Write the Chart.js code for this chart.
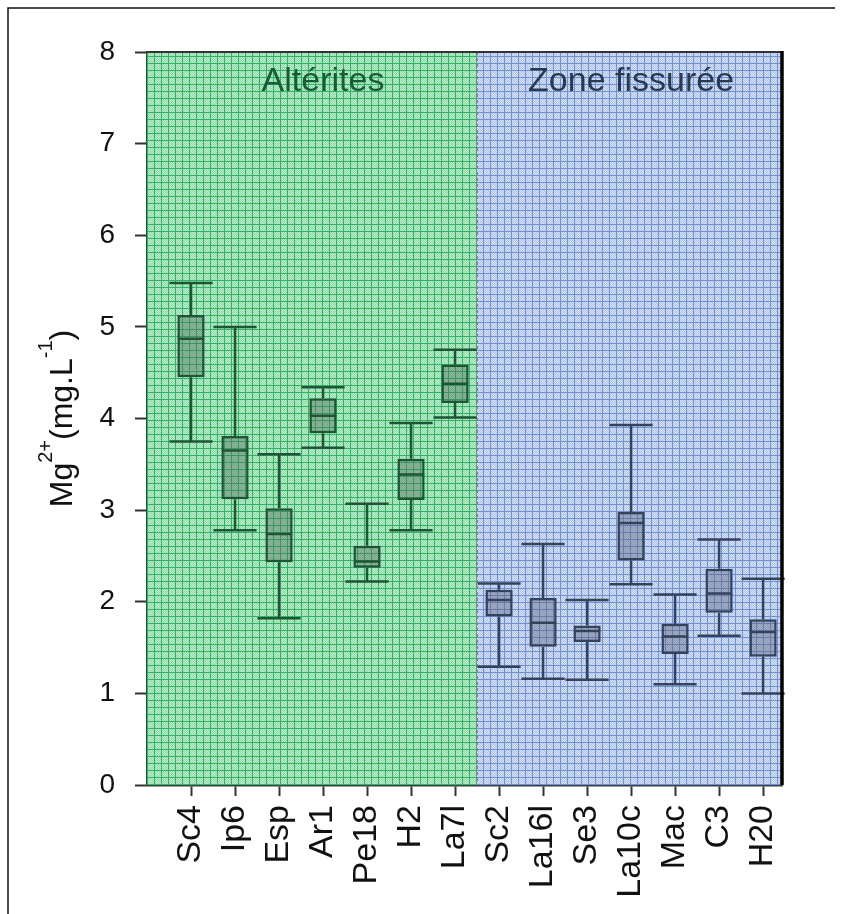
<!DOCTYPE html>
<html>
<head>
<meta charset="utf-8">
<script src="https://cdn.jsdelivr.net/npm/chart.js@4.4.1/dist/chart.umd.min.js"></script>
<style>
    html, body { margin: 0; padding: 0; background: #fff; }
    #wrap { width: 843px; height: 914px; position: relative; }
</style>
</head>
<body>
<div id="wrap"><canvas id="mgChart"></canvas></div>
<script>
// Mg2+ concentrations per well, box plot summary
const categories = ['Sc4', 'Ip6', 'Esp', 'Ar1', 'Pe18', 'H2', 'La7l', 'Sc2', 'La16l', 'Se3', 'La10c', 'Mac', 'C3', 'H20'];
const whiskerLow = [3.75, 2.78, 1.82, 3.68, 2.22, 2.78, 4.01, 1.29, 1.16, 1.15, 2.19, 1.10, 1.63, 1.00];
const q1 = [4.45, 3.12, 2.43, 3.84, 2.37, 3.11, 4.17, 1.84, 1.51, 1.56, 2.45, 1.43, 1.88, 1.40];
const medians = [4.87, 3.65, 2.74, 4.03, 2.44, 3.39, 4.38, 2.02, 1.77, 1.68, 2.86, 1.62, 2.09, 1.67];
const q3 = [5.13, 3.81, 3.02, 4.22, 2.61, 3.56, 4.59, 2.13, 2.04, 1.74, 2.98, 1.76, 2.36, 1.81];
const whiskerHigh = [5.48, 5.00, 3.61, 4.34, 3.07, 3.95, 4.75, 2.20, 2.63, 2.02, 3.93, 2.08, 2.68, 2.25];

const zoneNames = ['Altérites', 'Zone fissurée'];
const zoneSizes = [7, 7];

const yMin = 0, yMax = 8;

// styling
const FONT = "'Liberation Sans', Arial, sans-serif";
const zoneStyle = [
    { base: '#8fd8aa', light: '#bfeccf', line: '#2fb562', text: '#185c36', box: 'rgba(80, 105, 90, 0.42)', edge: '#1d5535' },
    { base: '#afc4e8', light: '#d8e2f4', line: '#6f91cf', text: '#2a3850', box: 'rgba(90, 95, 120, 0.4)', edge: '#34425e' }
];

const zoneOf = (i) => (i < zoneSizes[0] ? 0 : 1);
const xOf = (i) => i + 1;

// small grid tile used to hatch the zone backgrounds
function makeGrid(st) {
    const t = document.createElement('canvas');
    t.width = 7; t.height = 7;
    const c = t.getContext('2d');
    c.fillStyle = st.base;
    c.fillRect(0, 0, 7, 7);
    c.fillStyle = st.light;
    for (let y = 1; y < 7; y++) {
        for (let x = 1; x < 7; x++) {
            if ((x + y) % 2 === 0) c.fillRect(x, y, 1, 1);
        }
    }
    c.fillStyle = st.line;
    c.fillRect(0, 0, 7, 1);
    c.fillRect(0, 0, 1, 7);
    return c.createPattern(t, 'repeat');
}

function whiskerData(zone) {
    const pts = [];
    categories.forEach((_, i) => {
        if (zoneOf(i) !== zone) return;
        const x = xOf(i);
        pts.push({ x, y: whiskerLow[i] }, { x, y: q1[i] }, { x, y: null });
        pts.push({ x, y: q3[i] }, { x, y: whiskerHigh[i] }, { x, y: null });
        pts.push({ x: x - 0.49, y: whiskerLow[i] }, { x: x + 0.49, y: whiskerLow[i] }, { x, y: null });
        pts.push({ x: x - 0.49, y: whiskerHigh[i] }, { x: x + 0.49, y: whiskerHigh[i] }, { x, y: null });
    });
    return pts;
}

function medianData(zone) {
    const pts = [];
    categories.forEach((_, i) => {
        if (zoneOf(i) !== zone) return;
        const x = xOf(i);
        pts.push({ x: x - 0.3, y: medians[i] }, { x: x + 0.3, y: medians[i] }, { x, y: null });
    });
    return pts;
}

const lineSet = (data, zone, order) => ({
    type: 'line',
    data,
    borderColor: zoneStyle[zone].edge,
    borderWidth: 2.5,
    pointRadius: 0,
    spanGaps: false,
    tension: 0,
    clip: false,
    order
});

// zone backgrounds, divider and zone names
const zonePlugin = {
    id: 'zones',
    beforeDatasetsDraw(chart) {
        const { ctx, chartArea: a, scales: { x } } = chart;
        const split = x.getPixelForValue(zoneSizes[0] + 0.5);
        ctx.save();
        ctx.fillStyle = makeGrid(zoneStyle[0]);
        ctx.fillRect(a.left, a.top, split - a.left, a.bottom - a.top);
        ctx.fillStyle = makeGrid(zoneStyle[1]);
        ctx.fillRect(split, a.top, a.right - split, a.bottom - a.top);

        ctx.strokeStyle = '#7b8791';
        ctx.lineWidth = 2;
        ctx.setLineDash([3, 3]);
        ctx.beginPath();
        ctx.moveTo(split, a.top);
        ctx.lineTo(split, a.bottom);
        ctx.stroke();
        ctx.setLineDash([]);

        ctx.font = '34px ' + FONT;
        ctx.textAlign = 'center';
        ctx.textBaseline = 'middle';
        let start = 0;
        zoneNames.forEach((name, z) => {
            const mid = x.getPixelForValue(start + zoneSizes[z] / 2 + 0.5);
            ctx.fillStyle = zoneStyle[z].text;
            ctx.fillText(name, mid, a.top + 30);
            start += zoneSizes[z];
        });
        ctx.restore();
    },
    afterDraw(chart) {
        const { ctx, chartArea: a } = chart;
        ctx.save();
        // frame lines
        ctx.strokeStyle = '#333';
        ctx.lineWidth = 2;
        ctx.beginPath();
        ctx.moveTo(a.left, a.top);
        ctx.lineTo(a.right, a.top);
        ctx.stroke();
        ctx.strokeStyle = '#000';
        ctx.lineWidth = 3.5;
        ctx.beginPath();
        ctx.moveTo(a.right, a.top - 1);
        ctx.lineTo(a.right, a.bottom);
        ctx.stroke();

        ctx.strokeStyle = '#111';
        ctx.lineWidth = 1.5;
        ctx.beginPath();
        ctx.moveTo(8, chart.height);
        ctx.lineTo(8, 8);
        ctx.lineTo(835, 8);
        ctx.stroke();

        // y axis title with superscripts
        const parts = [['Mg', false], ['2+', true], ['(mg.L', false], ['-1', true], [')', false]];
        const big = '32px ' + FONT, small = '20px ' + FONT;
        let total = 0;
        parts.forEach(([s, sup]) => { ctx.font = sup ? small : big; total += ctx.measureText(s).width; });
        ctx.translate(72, (a.top + a.bottom) / 2);
        ctx.rotate(-Math.PI / 2);
        ctx.fillStyle = '#111';
        ctx.textBaseline = 'alphabetic';
        ctx.textAlign = 'left';
        let cx = -total / 2;
        parts.forEach(([s, sup]) => {
            ctx.font = sup ? small : big;
            ctx.fillText(s, cx, sup ? -20 : 0);
            cx += ctx.measureText(s).width;
        });
        ctx.restore();
    }
};

new Chart(document.getElementById('mgChart'), {
    type: 'bar',
    data: {
        datasets: [
            {
                type: 'bar',
                data: categories.map((_, i) => ({ x: xOf(i), y: [q1[i], q3[i]] })),
                backgroundColor: (c) => zoneStyle[zoneOf(c.dataIndex)].box,
                borderColor: (c) => zoneStyle[zoneOf(c.dataIndex)].edge,
                borderWidth: 2.5,
                borderSkipped: false,
                categoryPercentage: 1,
                barPercentage: 0.62,
                order: 1
            },
            lineSet(whiskerData(0), 0, 2),
            lineSet(whiskerData(1), 1, 2),
            lineSet(medianData(0), 0, 0),
            lineSet(medianData(1), 1, 0)
        ]
    },
    options: {
        responsive: true,
        maintainAspectRatio: false,
        animation: false,
        layout: { padding: { left: 0, top: 52, right: 61, bottom: 0 } },
        plugins: {
            legend: { display: false },
            tooltip: { enabled: false }
        },
        scales: {
            x: {
                type: 'linear',
                offset: false,
                min: 0,
                max: 14.43,
                afterBuildTicks: (s) => { s.ticks = categories.map((_, i) => ({ value: xOf(i) })); },
                afterFit: (s) => { s.height = 129; },
                grid: { offset: false, drawOnChartArea: false, tickLength: 11, tickWidth: 2, tickColor: '#333' },
                border: { color: '#3a3f45', width: 2.5 },
                ticks: {
                    autoSkip: false,
                    minRotation: 90,
                    maxRotation: 90,
                    padding: 9,
                    color: '#111',
                    font: { family: FONT, size: 34 },
                    callback: (v) => categories[v - 1]
                }
            },
            y: {
                min: yMin,
                max: yMax,
                afterFit: (s) => { s.width = 147; },
                grid: { drawOnChartArea: false, tickLength: 12, tickWidth: 2, tickColor: '#333' },
                border: { color: '#2b4d39', width: 2.5 },
                ticks: {
                    stepSize: 1,
                    padding: 20,
                    color: '#111',
                    font: { family: FONT, size: 28 }
                }
            }
        }
    },
    plugins: [zonePlugin]
});
</script>
</body>
</html>
